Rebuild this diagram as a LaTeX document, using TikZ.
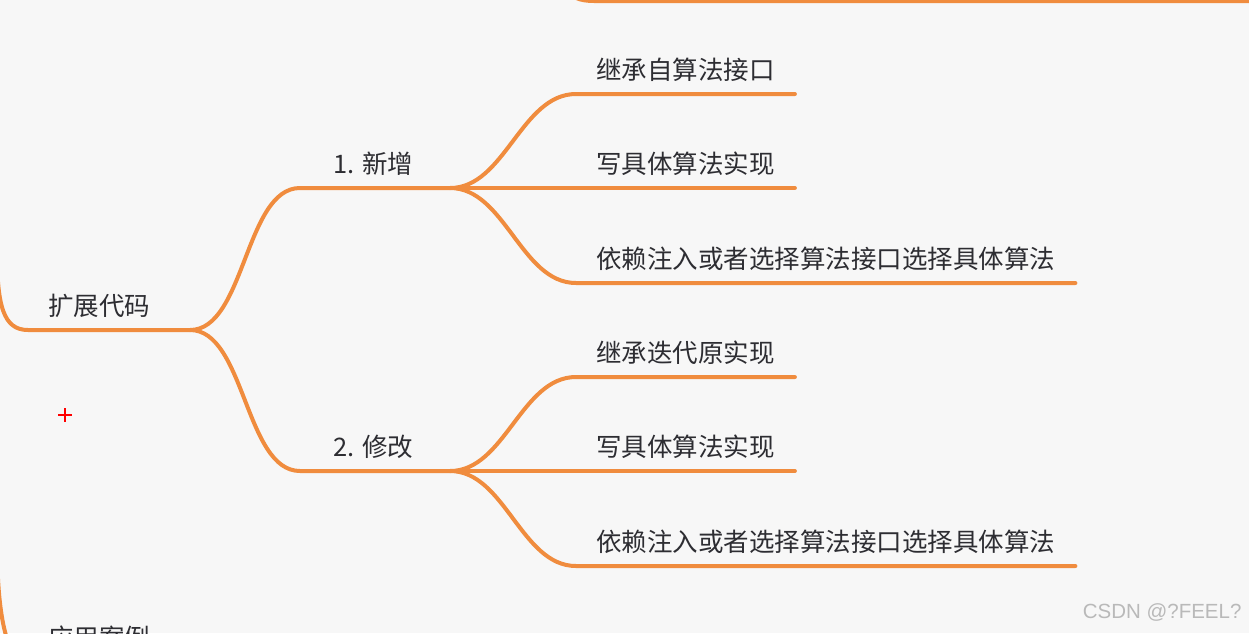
\documentclass[tikz,border=0pt]{standalone}
\usepackage{fontspec}
\setmainfont{Noto Sans CJK SC}
\newfontfamily\wmfont{Liberation Sans}
\usetikzlibrary{positioning}
\definecolor{mmorange}{RGB}{240,140,62}
\definecolor{mmtext}{RGB}{45,45,50}
\definecolor{mmback}{RGB}{247,247,247}

\begin{document}
\begin{tikzpicture}[x=1pt, y=-1pt,
    limb/.style={draw=mmorange, line width=4pt, line cap=round},
    topic/.style={inner ysep=12pt, text=mmtext, font=\fontsize{25.5}{30}\selectfont, anchor=south west},
    leaf/.style={topic, inner xsep=20pt}]
    \useasboundingbox[fill=mmback] (0,0) rectangle (1249,633);
    \clip (0,0) rectangle (1249,633);

    % main topics
    \node[topic, inner xsep=20pt] (ext) at (28,330) {扩展代码};
    \node[topic, inner xsep=20pt] (case) at (28,662) {应用案例};
    \coordinate (j0) at (190,330);
    \coordinate (up) at (-3,250);
    \coordinate (down) at (-3,540);
    \draw[limb] (up) .. controls +(0,55) and +(-25,0) .. (ext.south west) -- (j0);
    \draw[limb] (down) .. controls +(0,60) and +(-25,0) .. (case.south west);

    % leftover branch at the top
    \coordinate (t0) at (562,-45);
    \coordinate (t1) at (594,1);
    \coordinate (t2) at (1262,1);
    \draw[limb] (t0) .. controls +(0,30) and +(-30,0) .. (t1) -- (t2);

    % sub topics
    \node[topic, inner xsep=33pt] (add) at (300,188) {1. 新增};
    \node[topic, inner xsep=33pt] (mod) at (300,471) {2. 修改};
    \coordinate (j1) at (450,188);
    \coordinate (j2) at (450,471);
    \draw[limb] (j0) .. controls +(55,0) and +(-55,0) .. (add.south west) -- (j1);
    \draw[limb] (j0) .. controls +(55,0) and +(-55,0) .. (mod.south west) -- (j2);

    % leaves
    \foreach \name/\j/\y/\txt in {a1/j1/94/继承自算法接口, a2/j1/188/写具体算法实现,
        a3/j1/283/依赖注入或者选择算法接口选择具体算法,
        b1/j2/377/继承迭代原实现, b2/j2/471/写具体算法实现,
        b3/j2/566/依赖注入或者选择算法接口选择具体算法}
    {
        \node[leaf] (\name) at (576,\y) {\txt};
        \draw[limb] (\j) .. controls +(55,0) and +(-55,0) .. (\name.south west) -- (\name.south east);
    }

    % cursor mark
    \draw[red, line width=1.5pt] (58,415) -- (72,415) (65,408) -- (65,422);

    \node[text=gray!55, font=\wmfont\fontsize{20.5}{24}\selectfont, anchor=east] (mark) at (1245,612) {CSDN @?FEEL?};
\end{tikzpicture}
\end{document}
